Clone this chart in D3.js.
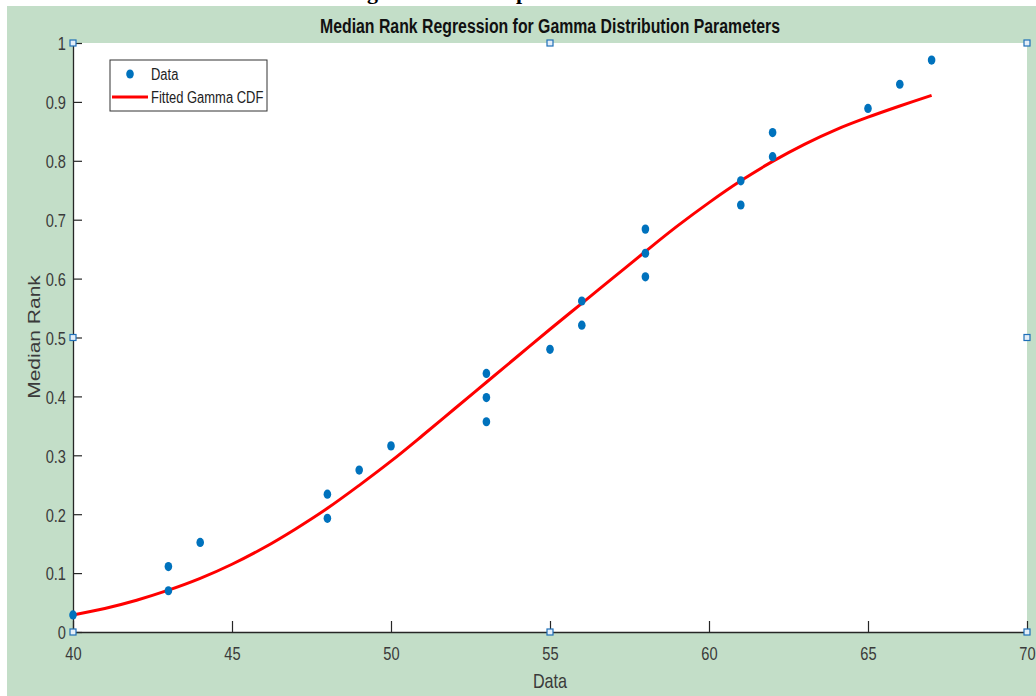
<!DOCTYPE html>
<html>
<head>
<meta charset="utf-8">
<script src="https://cdn.jsdelivr.net/npm/d3@7"></script>
<style>
  body { margin: 0; background: #fff; }
  svg { display: block; }
</style>
</head>
<body>
<svg id="chart"></svg>
<script>
// observed data (x) and median ranks (y)
var dataX = [40, 43, 43, 44, 48, 48, 49, 50, 53, 53, 53, 55, 56, 56, 58, 58, 58, 61, 61, 62, 62, 65, 66, 67];
var rankY = [0.029, 0.070, 0.111, 0.152, 0.193, 0.234, 0.275, 0.316, 0.357, 0.398, 0.439, 0.480,
             0.521, 0.562, 0.603, 0.643, 0.684, 0.725, 0.766, 0.807, 0.848, 0.889, 0.930, 0.971];

// fitted gamma cdf
var fitX = [40, 41, 42, 43, 44, 45, 46, 47, 48, 49, 50, 51, 52, 53, 54, 55, 56, 57, 58, 59, 60, 61, 62, 63, 64, 65, 66, 67];
var fitY = [0.029, 0.040, 0.054, 0.071, 0.091, 0.115, 0.143, 0.175, 0.210, 0.249, 0.290, 0.334, 0.379, 0.424,
            0.469, 0.514, 0.558, 0.602, 0.646, 0.689, 0.729, 0.766, 0.799, 0.828, 0.853, 0.874, 0.893, 0.911];

var xTicks = [40, 45, 50, 55, 60, 65, 70];
var yTicks = [0, 0.1, 0.2, 0.3, 0.4, 0.5, 0.6, 0.7, 0.8, 0.9, 1];

var W = 1036, H = 696;
var padL = 73, padR = 1027, padT = 43, padB = 632;
var FONT = "'Liberation Sans', Arial, sans-serif";
var axisColor = "#262626";
var SQUEEZE = 0.77; // the screenshot is narrowed horizontally

// narrow a text horizontally by setting its length
function squeeze(sel, f) {
    sel.each(function () {
        var w = this.getComputedTextLength();
        d3.select(this).attr("textLength", w * f).attr("lengthAdjust", "spacingAndGlyphs");
    });
}

var svg = d3.select("#chart").attr("width", W).attr("height", H);

// figure background
svg.append("rect").attr("x", 7).attr("y", 6).attr("width", W - 7).attr("height", H - 6)
    .attr("fill", "#c3dec8");

// cut-off heading from the page above
svg.append("text").attr("x", 367).attr("y", -1).text("g")
    .style("font-family", "'Liberation Serif', serif").style("font-weight", "bold").style("font-size", "22px");
svg.append("text").attr("x", 516).attr("y", -1).text("p")
    .style("font-family", "'Liberation Serif', serif").style("font-weight", "bold").style("font-size", "22px");

// axes area
svg.append("rect").attr("x", padL).attr("y", padT).attr("width", padR - padL).attr("height", padB - padT)
    .attr("fill", "#fff");

var x = d3.scaleLinear().domain([40, 70]).range([padL, padR]);
var y = d3.scaleLinear().domain([0, 1]).range([padB, padT]);

var gx = svg.append("g").attr("transform", "translate(0," + padB + ")")
    .call(d3.axisBottom(x).tickValues(xTicks).tickSizeInner(-11).tickSizeOuter(0).tickPadding(15)
        .tickFormat(d3.format("d")));
var gy = svg.append("g").attr("transform", "translate(" + padL + ",0)")
    .call(d3.axisLeft(y).tickValues(yTicks).tickSizeInner(-9).tickSizeOuter(0).tickPadding(7)
        .tickFormat(function (d) { return d === 0 ? "0" : d === 1 ? "1" : d3.format(".1f")(d); }));

[gx, gy].forEach(function (g) {
    g.select(".domain").attr("stroke", axisColor).attr("stroke-width", 1.3);
    g.selectAll(".tick line").attr("stroke", axisColor).attr("stroke-width", 1.2);
    g.selectAll(".tick text").attr("fill", "#3a3a3a").style("font-family", FONT).style("font-size", "19px")
        .call(squeeze, SQUEEZE);
});
gy.selectAll(".tick text").attr("dy", "0.36em");

// fitted curve
var line = d3.line().x(function (d, i) { return x(fitX[i]); }).y(function (d) { return y(d); })
    .curve(d3.curveCatmullRom.alpha(0.5));
svg.append("path").datum(fitY).attr("d", line)
    .attr("fill", "none").attr("stroke", "#ff0000").attr("stroke-width", 3);

// data points
svg.append("g").selectAll("ellipse").data(dataX).enter().append("ellipse")
    .attr("cx", function (d) { return x(d); })
    .attr("cy", function (d, i) { return y(rankY[i]); })
    .attr("rx", 3.8).attr("ry", 4.6)
    .attr("fill", "#0072bd");

// title and axis labels
svg.append("text").attr("x", 550).attr("y", 33).attr("text-anchor", "middle")
    .attr("textLength", 460).attr("lengthAdjust", "spacingAndGlyphs")
    .style("font-family", FONT).style("font-weight", "bold").style("font-size", "20px").attr("fill", "#111")
    .text("Median Rank Regression for Gamma Distribution Parameters");

svg.append("text").attr("x", 550).attr("y", 688).attr("text-anchor", "middle")
    .style("font-family", FONT).style("font-size", "21px").attr("fill", "#3a3a3a")
    .text("Data").call(squeeze, SQUEEZE);

svg.append("text").attr("transform", "translate(40,337) scale(" + SQUEEZE + ",1) rotate(-90)")
    .attr("text-anchor", "middle")
    .style("font-family", FONT).style("font-size", "21px").attr("fill", "#3a3a3a")
    .text("Median Rank");

// legend
var lg = svg.append("g");
lg.append("rect").attr("x", 110).attr("y", 60).attr("width", 157).attr("height", 51)
    .attr("fill", "#fff").attr("stroke", "#333").attr("stroke-width", 1);
lg.append("ellipse").attr("cx", 130).attr("cy", 74).attr("rx", 3.8).attr("ry", 4.6).attr("fill", "#0072bd");
lg.append("line").attr("x1", 112).attr("x2", 148).attr("y1", 97).attr("y2", 97)
    .attr("stroke", "#ff0000").attr("stroke-width", 3);
lg.append("text").attr("x", 151).attr("y", 80).text("Data")
    .style("font-family", FONT).style("font-size", "16px").attr("fill", "#222").call(squeeze, 0.81);
lg.append("text").attr("x", 151).attr("y", 103).text("Fitted Gamma CDF")
    .style("font-family", FONT).style("font-size", "16px").attr("fill", "#222").call(squeeze, 0.81);

// selection handles
var handles = [[padL, padT], [550, padT], [padR, padT], [padL, 337.5], [padR, 337.5],
               [padL, padB], [550, padB], [padR, padB]];
svg.append("g").selectAll("rect").data(handles).enter().append("rect")
    .attr("x", function (d) { return d[0] - 3; }).attr("y", function (d) { return d[1] - 3; })
    .attr("width", 6).attr("height", 6)
    .attr("fill", "#e4eef8").attr("stroke", "#1f6fb8").attr("stroke-width", 1.2);
</script>
</body>
</html>
